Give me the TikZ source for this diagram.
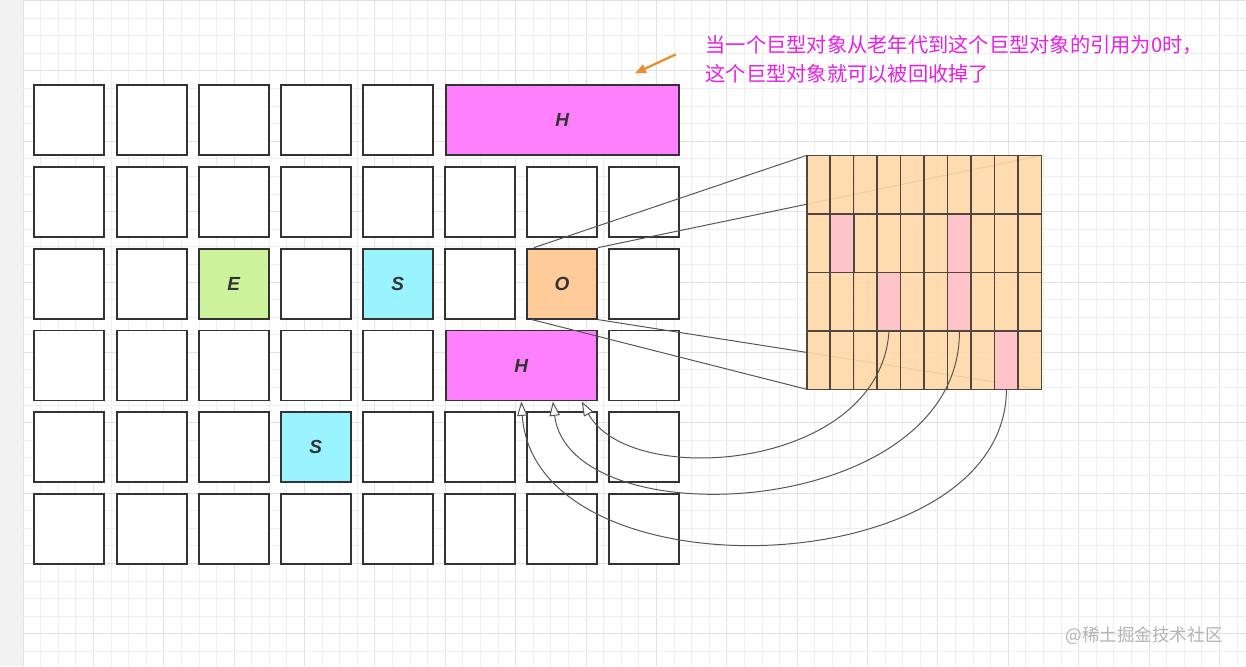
\documentclass[tikz,border=0pt]{standalone}
\usepackage{fontspec}
\setmainfont{Liberation Sans}
\newfontfamily\cjkfont{Noto Sans CJK SC}
\definecolor{sidegray}{HTML}{F2F2F2}
\definecolor{minorline}{HTML}{EFEFEF}
\definecolor{majorline}{HTML}{E2E2E2}
\definecolor{cellline}{HTML}{333333}
\definecolor{labeltext}{HTML}{333333}
\definecolor{humongous}{HTML}{FF80FF}
\definecolor{edengreen}{HTML}{CCF29C}
\definecolor{survcyan}{HTML}{99F4FF}
\definecolor{oldpeach}{HTML}{FFCC99}
\definecolor{zoompeach}{HTML}{FFD9A8}
\definecolor{zoompink}{HTML}{FFC2CC}
\definecolor{zoomline}{HTML}{4F4640}
\definecolor{linkgray}{HTML}{555555}
\definecolor{notemagenta}{HTML}{E620E6}
\definecolor{pointer}{HTML}{F08A30}
\definecolor{markgray}{HTML}{B4B4B4}
\usetikzlibrary{arrows.meta}

\begin{document}
\begin{tikzpicture}[x=0.025cm, y=-0.025cm,
  region/.style={draw=cellline, line width=1.4pt, minimum width=1.75cm,
    minimum height=1.75cm, inner sep=0pt, fill=white, text=labeltext,
    font=\bfseries\itshape\fontsize{13.5}{13.5}\selectfont},
  card/.style={draw=zoomline, line width=1.1pt, minimum width=0.5875cm,
    minimum height=1.4625cm, inner sep=0pt, fill=zoompeach, fill opacity=0.9},
  link/.style={draw=linkgray, line width=0.7pt},
  ref/.style={draw=linkgray, line width=0.7pt,
    -{Triangle[length=0.36cm, width=0.26cm, fill=white]}},
]
  % paper background
  \fill[white] (0,0) rectangle (1246,666);
  \fill[sidegray] (0,0) rectangle (23,666);
  \foreach \i in {0,...,69} {
    \pgfmathtruncatemacro\major{mod(\i,4)==0}
    \ifnum\major=1
      \draw[majorline, line width=0.6pt] ({23+17.6*\i},0) -- ({23+17.6*\i},666);
    \else
      \draw[minorline, line width=0.6pt] ({23+17.6*\i},0) -- ({23+17.6*\i},666);
    \fi
  }
  \foreach \k in {0,...,37} {
    \pgfmathtruncatemacro\major{mod(\k,4)==0}
    \ifnum\major=1
      \draw[majorline, line width=0.6pt] (23,{17.6*\k}) -- (1246,{17.6*\k});
    \else
      \draw[minorline, line width=0.6pt] (23,{17.6*\k}) -- (1246,{17.6*\k});
    \fi
  }

  % heap regions
  \foreach \r/\cols in {0/{0,1,2,3,4}, 1/{0,...,7}, 2/{0,1,3,5,7},
                        3/{0,1,2,3,4,7}, 4/{0,1,2,4,5,6,7}, 5/{0,...,7}} {
    \foreach \c in \cols
      \node[region] (cell-\c-\r) at ({69.5+82.1*\c},{119.5+81.9*\r}) {};
  }
  \node[region, fill=humongous, minimum width=5.825cm] (H1) at (562.5,119.5) {H};
  \node[region, fill=edengreen] (E) at ({69.5+82.1*2},{119.5+81.9*2}) {E};
  \node[region, fill=survcyan] (S1) at ({69.5+82.1*4},{119.5+81.9*2}) {S};
  \node[region, fill=oldpeach] (O) at ({69.5+82.1*6},{119.5+81.9*2}) {O};
  \node[region, fill=humongous, minimum width=3.775cm] (H2) at (521.5,{119.5+81.9*3}) {H};
  \node[region, fill=survcyan] (S2) at ({69.5+82.1*3},{119.5+81.9*4}) {S};

  % card table of the old region
  \coordinate (zoom-nw) at (807,155);
  \coordinate (zoom-ne) at (1042,155);
  \coordinate (zoom-sw) at (807,389);
  \coordinate (zoom-se) at (1042,389);
  \draw[link] ([xshift=0.2cm]O.north west) -- (zoom-nw);
  \draw[link] (O.north east) -- (zoom-ne);
  \draw[link] ([xshift=0.15cm]O.south west) -- (zoom-sw);
  \draw[link] (O.south east) -- (zoom-se);
  \foreach \r in {0,...,3}
    \foreach \c in {0,...,9}
      \node[card] (card-\c-\r) at ({818.75+23.5*\c},{184.25+58.5*\r}) {};
  \foreach \c/\r in {1/1, 6/1, 3/2, 6/2, 8/3}
    \node[card, fill=zoompink] (card-\c-\r) at ({818.75+23.5*\c},{184.25+58.5*\r}) {};

  % references into the humongous region
  \draw[ref] (card-3-2.south) .. controls (880,470) and (630,490) .. ([xshift=1.51cm]H2.south);
  \draw[ref] (card-6-2.south) .. controls (960,520) and (570,540) .. ([xshift=0.79cm]H2.south);
  \draw[ref] (card-8-3.south) .. controls (1005,585) and (535,600) .. (H2.south);

  % note
  \coordinate (note-tail) at (676,54);
  \coordinate (note-head) at (635,73);
  \draw[pointer, line width=1.6pt, -{Triangle[length=0.28cm, width=0.22cm]}] (note-tail) -- (note-head);
  \node[anchor=west, align=left, text=notemagenta, font=\cjkfont\fontsize{14.4}{20.6}\selectfont]
    (note) at (701,58.5) {当一个巨型对象从老年代到这个巨型对象的引用为0时，\\这个巨型对象就可以被回收掉了};

  \node[anchor=east, text=markgray, font=\cjkfont\fontsize{12.5}{14}\selectfont]
    (mark) at (1228,635) {@稀土掘金技术社区};
\end{tikzpicture}
\end{document}
